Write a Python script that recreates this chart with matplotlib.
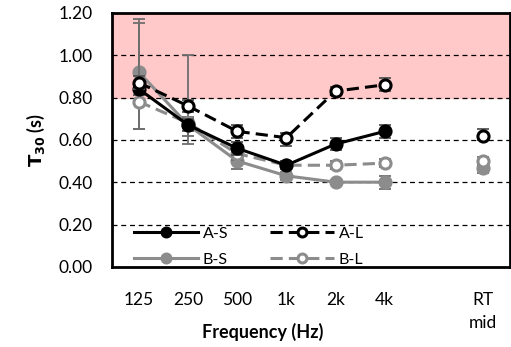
import numpy as np
import matplotlib
matplotlib.use("Agg")
import matplotlib.pyplot as plt

plt.rcParams['font.family'] = ['Lato', 'DejaVu Sans']

categories = ['125', '250', '500', '1k', '2k', '4k', 'RT\nmid']
x_pos = [0, 1, 2, 3, 4, 5, 7]

a_s = [0.84, 0.67, 0.56, 0.48, 0.58, 0.64, np.nan]
a_l = [0.87, 0.76, 0.64, 0.61, 0.83, 0.86, 0.62]
b_s = [0.92, 0.67, 0.50, 0.43, 0.40, 0.40, 0.465]
b_l = [0.78, 0.68, 0.535, 0.48, 0.48, 0.49, 0.50]

# asymmetric errors (lower, upper)
a_s_err = [[0.03, 0.03, 0.03, 0.02, 0.03, 0.03, 0.0], [0.03, 0.03, 0.03, 0.02, 0.03, 0.03, 0.0]]
a_l_err = [[0.03, 0.03, 0.03, 0.04, 0.02, 0.03, 0.02], [0.03, 0.03, 0.03, 0.02, 0.02, 0.03, 0.03]]
b_s_err = [[0.27, 0.09, 0.04, 0.02, 0.01, 0.03, 0.02], [0.25, 0.33, 0.04, 0.02, 0.01, 0.03, 0.01]]
b_l_err = [[0.13, 0.06, 0.03, 0.02, 0.02, 0.02, 0.02], [0.37, 0.03, 0.03, 0.02, 0.02, 0.02, 0.02]]

gray = '#8c8c8c'
dash = (0, (4, 2))

series = [
    ('B-S', b_s, b_s_err, gray, '-', gray, '#6e6e6e', 3),
    ('B-L', b_l, b_l_err, gray, dash, 'white', '#6e6e6e', 3),
    ('A-S', a_s, a_s_err, 'black', '-', 'black', '#555555', 4),
    ('A-L', a_l, a_l_err, 'black', dash, 'white', '#555555', 4),
]

fig = plt.figure(figsize=(5.11, 3.47), dpi=100)
ax = fig.add_axes([0.219, 0.231, 0.779, 0.732])

ax.axhspan(0.8, 1.2, color='#ffc9c9', zorder=0)
for g in [0.2, 0.4, 0.6, 0.8, 1.0]:
    ax.axhline(g, color='black', ls=(0, (4, 3)), lw=0.9, zorder=1)

handles = {}
for name, vals, err, col, ls, mfc, ecol, z in series:
    ax.errorbar(x_pos, vals, yerr=err, fmt='none', ecolor=ecol, elinewidth=1.3,
                capsize=4, capthick=1.3, zorder=z)
    # connected frequency bands
    h, = ax.plot(x_pos[:6], vals[:6], color=col, lw=2.2, ls=ls, marker='o', ms=8,
                 mfc=mfc, mec=col, mew=2.2, zorder=z)
    # RT mid stands alone
    ax.plot(x_pos[6:], vals[6:], ls='none', marker='o', ms=8, mfc=mfc, mec=col,
            mew=2.2, zorder=z)
    handles[name] = h

ax.set_xlim(-0.55, 7.55)
ax.set_ylim(0, 1.2)
yt = np.arange(0, 1.21, 0.2)
ax.set_yticks(yt)
ax.set_yticklabels([f'{v:.2f}' for v in yt], fontsize=12.5)
ax.set_xticks(x_pos)
ax.set_xticklabels(categories, fontsize=12.5, linespacing=1.55)
ax.tick_params(length=0)
ax.tick_params(axis='x', pad=18)
ax.tick_params(axis='y', pad=14)
for s in ax.spines.values():
    s.set_linewidth(2)

ax.set_xlabel('Frequency (Hz)', fontsize=13, fontweight='bold')
ax.set_ylabel(r'$\mathbf{T_{30}}$ (s)', fontsize=13, fontweight='bold', labelpad=8)
ax.xaxis.set_label_coords(0.38, -0.22)

order = ['A-S', 'B-S', 'A-L', 'B-L']
ax.legend([handles[n] for n in order], order, ncol=2, loc='lower left',
          frameon=False, fontsize=11.5, handlelength=4.0, handletextpad=0.3, columnspacing=2.6,
          labelspacing=0.75, borderaxespad=0.0, markerscale=0.8, bbox_to_anchor=(0.04, -0.025))

fig.savefig('out.png', dpi=100)
